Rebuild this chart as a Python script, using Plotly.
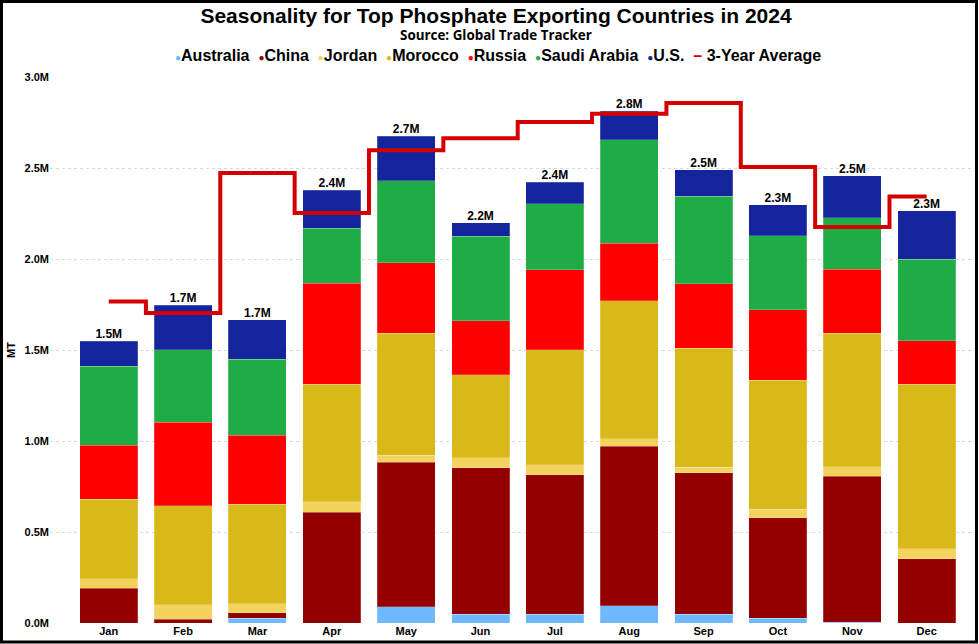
import plotly.graph_objects as go

# 월별 수출량 (단위: 백만 MT)
months = ['Jan', 'Feb', 'Mar', 'Apr', 'May', 'Jun', 'Jul', 'Aug', 'Sep', 'Oct', 'Nov', 'Dec']

australia = [0.000, 0.000, 0.027, 0.000, 0.090, 0.047, 0.049, 0.095, 0.049, 0.025, 0.003, 0.000]
china = [0.192, 0.022, 0.028, 0.608, 0.792, 0.805, 0.766, 0.875, 0.777, 0.554, 0.803, 0.352]
jordan = [0.050, 0.077, 0.051, 0.057, 0.039, 0.056, 0.055, 0.043, 0.029, 0.047, 0.053, 0.055]
morocco = [0.439, 0.545, 0.546, 0.648, 0.670, 0.456, 0.632, 0.758, 0.654, 0.709, 0.732, 0.906]
russia = [0.297, 0.460, 0.379, 0.555, 0.389, 0.297, 0.439, 0.315, 0.355, 0.386, 0.354, 0.238]
saudi_arabia = [0.434, 0.398, 0.417, 0.300, 0.449, 0.463, 0.363, 0.570, 0.480, 0.407, 0.282, 0.449]
us = [0.137, 0.243, 0.217, 0.209, 0.245, 0.074, 0.119, 0.157, 0.147, 0.170, 0.231, 0.264]

three_year_avg = [1.767, 1.703, 2.473, 2.253, 2.597, 2.663, 2.753, 2.798, 2.857, 2.505, 2.176, 2.344]

y_ticks = [0, 0.5, 1.0, 1.5, 2.0, 2.5, 3.0]

series = [
    ('Australia', australia, '#70b8ff'),
    ('China', china, '#940000'),
    ('Jordan', jordan, '#f3d35e'),
    ('Morocco', morocco, '#d9b819'),
    ('Russia', russia, '#ff0000'),
    ('Saudi Arabia', saudi_arabia, '#1fab45'),
    ('U.S.', us, '#13249c'),
]
avg_color = '#d40000'

ARIAL = 'Liberation Sans, Arial, sans-serif'
SUB = 'Open Sans, Noto Sans, sans-serif'

fig = go.Figure()

##############################################################################
# 누적 막대
for name, vals, color in series:
    fig.add_trace(go.Bar(
        x=months, y=vals, name=name, marker_color=color,
        marker_line=dict(color='rgba(255,255,255,0.35)', width=0.6),
    ))

# 3년 평균 (계단선)
fig.add_trace(go.Scatter(
    x=months, y=three_year_avg, name='3-Year Average', mode='lines',
    line=dict(color=avg_color, width=4, shape='hvh'),
))

# 막대 합계 라벨
totals = [sum(v) for v in zip(*[s[1] for s in series])]
fig.add_trace(go.Scatter(
    x=months, y=totals, mode='text',
    text=[f'{t:.1f}M' for t in totals], textposition='top center',
    textfont=dict(family=ARIAL, size=12, color='black', weight='bold'),
))

##############################################################################
# 범례 (한 줄 텍스트)
legend_parts = [f'<span style="color:{c};font-size:10px">●</span>{n}' for n, _, c in series]
legend_parts.append(f'<span style="color:{avg_color}">–</span> 3-Year Average')
legend_text = '  '.join(legend_parts)

##############################################################################
# 레이아웃
plot_w = 979 - 50 - 4
plot_h = 644 - 77 - 21
center_px = 496  # 제목/범례 가로 중심

fig.update_layout(
    width=979, height=644, showlegend=False,
    barmode='stack', bargap=0.22,
    plot_bgcolor='white', paper_bgcolor='white',
    margin=dict(l=50, r=4, t=77, b=21),
    font=dict(family=ARIAL, color='black'),
    title=dict(
        text='Seasonality for Top Phosphate Exporting Countries in 2024',
        x=center_px / 979, xanchor='center', y=1 - 16 / 644, yanchor='middle',
        xref='container', yref='container',
        font=dict(family=ARIAL, size=21, color='black', weight='bold'),
    ),
    annotations=[
        dict(text='Source: Global Trade Tracker', xref='paper', yref='paper',
             x=(center_px - 50) / plot_w, y=(623 - 35) / plot_h,
             xanchor='center', yanchor='middle', showarrow=False,
             font=dict(family=SUB, size=13.4, color='black', weight='bold')),
        dict(text=legend_text, xref='paper', yref='paper',
             x=(center_px + 2 - 50) / plot_w, y=(623 - 56) / plot_h,
             xanchor='center', yanchor='middle', showarrow=False,
             font=dict(family=ARIAL, size=16, color='black', weight='bold')),
    ],
    xaxis=dict(
        range=[-0.79, 11.65], showgrid=False, showline=False, ticks='',
        tickfont=dict(family=ARIAL, size=11, weight='bold'),
    ),
    yaxis=dict(
        range=[0, 3.0], tickvals=y_ticks, ticktext=[f'{v:.1f}M' for v in y_ticks],
        showgrid=True, gridcolor='#d9d9d9', griddash='dot', gridwidth=1,
        zeroline=False, showline=False,
        tickfont=dict(family=ARIAL, size=11, weight='bold'),
        title=dict(text='MT', standoff=6, font=dict(family=ARIAL, size=11, weight='bold')),
    ),
    shapes=[dict(
        type='rect', xref='paper', yref='paper',
        x0=-48.5 / plot_w, x1=(976.5 - 50) / plot_w,
        y0=-19 / plot_h, y1=(623 - 1.5) / plot_h,
        line=dict(color='black', width=3), fillcolor='rgba(0,0,0,0)', layer='above',
    )],
)

# 페이지 기본 여백 제거
fig.write_html("out.html", config={'displayModeBar': False},
               post_script="document.body.style.margin='0';")
